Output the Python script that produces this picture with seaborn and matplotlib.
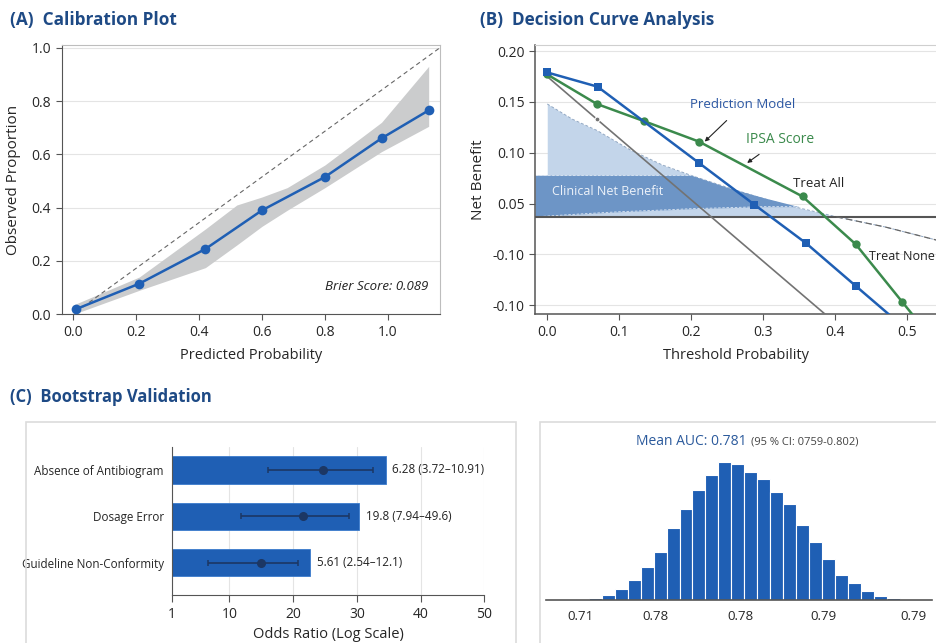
import matplotlib.pyplot as plt
import numpy as np
import pandas as pd
import seaborn as sns
from matplotlib.patches import Rectangle

sns.set_style("white")
plt.rcParams["font.family"] = ["Open Sans", "DejaVu Sans"]

NAVY = "#1e4a85"
BLUE = "#1f5fb4"
GREEN = "#3b8a4c"
GRID = "#e4e4e4"
SPINE = "#555555"

# (A) calibration
cal_pred = [0.01, 0.21, 0.42, 0.60, 0.80, 0.98, 1.13]
cal_obs = [0.02, 0.115, 0.245, 0.39, 0.515, 0.66, 0.765]
cal_band_x = [0.0, 0.21, 0.42, 0.52, 0.60, 0.68, 0.80, 0.98, 1.13]
cal_band_hi = [0.035, 0.14, 0.32, 0.41, 0.44, 0.475, 0.56, 0.72, 0.93]
cal_band_lo = [0.0, 0.09, 0.175, 0.26, 0.33, 0.39, 0.475, 0.61, 0.705]
brier = 0.089

# (B) decision curve
thr_model = [0.0, 0.07, 0.211, 0.288, 0.36, 0.429, 0.49]
nb_model = [0.179, 0.165, 0.090, 0.049, 0.011, -0.031, -0.068]
thr_ipsa = [0.0, 0.069, 0.135, 0.211, 0.355, 0.429, 0.494, 0.518]
nb_ipsa = [0.177, 0.148, 0.131, 0.111, 0.057, 0.010, -0.047, -0.068]
thr_all = [0.0, 0.069, 0.40]
nb_all = [0.175, 0.133, -0.067]
nb_none = 0.037
cnb_x = [0.0, 0.035, 0.069, 0.115, 0.16, 0.203, 0.25, 0.286, 0.33, 0.379, 0.402, 0.47, 0.542]
cnb_hi = [0.148, 0.133, 0.122, 0.103, 0.088, 0.077, 0.066, 0.058, 0.049, 0.041, 0.037, 0.027, 0.014]
cnb_band_x = [-0.017, 0.05, 0.10, 0.17, 0.20, 0.25, 0.30, 0.35]
cnb_band_lo = [0.037, 0.040, 0.042, 0.044, 0.045, 0.046, 0.047, 0.047]
cnb_band_hi = [0.078, 0.078, 0.078, 0.078, 0.078, 0.066, 0.056, 0.047]
b_yticks = [0.20, 0.15, 0.10, 0.05, 0.00, -0.05]
b_ylabels = ["0.20", "0.15", "0.10", "0.05", "-0.10", "-0.10"]

# (C) bootstrap odds ratios
predictors = ["Absence of Antibiogram", "Dosage Error", "Guideline Non-Conformity"]
or_bar = [34.5, 30.4, 22.7]
or_point = [24.7, 21.6, 14.9]
or_lo = [16.1, 11.8, 6.7]
or_hi = [32.5, 28.8, 20.7]
or_text = ["6.28 (3.72\u201310.91)", "19.8 (7.94\u201349.6)", "5.61 (2.54\u201312.1)"]
or_ticks = [1, 10, 20, 30, 40, 50]

# (C) bootstrap AUC distribution
auc_counts = [8, 23, 53, 107, 197, 333, 480, 717, 913, 1103, 1247, 1383, 1357,
              1283, 1207, 1083, 957, 747, 583, 407, 253, 167, 87, 43, 17]
auc_range = (0.7405, 0.8184)
auc_ticks = [0.7416, 0.7596, 0.78, 0.7999, 0.8216]
auc_ticklabels = ["0.71", "0.78", "0.78", "0.79", "0.79"]

fig = plt.figure(figsize=(9.37, 6.43), dpi=100)

# ---------- (A) ----------
ax = fig.add_axes([0.0658, 0.5112, 0.4038, 0.4188])
ax.fill_between(cal_band_x, cal_band_lo, cal_band_hi, color="#cbcccd", lw=0, zorder=1)
ax.plot([0.01, 1.166], [0.01, 1.0], ls=(0, (4, 3)), color="#666666", lw=0.8, zorder=2)
sns.lineplot(x=cal_pred, y=cal_obs, marker="o", markersize=7, color=BLUE,
             lw=1.8, markeredgewidth=0, sort=False, ax=ax, zorder=3)
ax.set_xlim(-0.037, 1.166)
ax.set_ylim(0, 1.01)
ax.set_xticks([0.0, 0.2, 0.4, 0.6, 0.8, 1.0])
ax.set_xticklabels(["0.0", "0.2", "0.4", "0.6", "0.8", "1.0"])
ax.set_yticks([0.0, 0.2, 0.4, 0.6, 0.8, 1.0])
ax.set_yticklabels(["0.0", "0.2", "0.4", "0.6", "0.8", "1.0"])
ax.yaxis.grid(True, color=GRID, lw=0.8)
ax.set_axisbelow(True)
ax.set_xlabel("Predicted Probability", fontsize=10.5, labelpad=6)
ax.set_ylabel("Observed Proportion", fontsize=11, labelpad=8)
ax.text(1.129, 0.106, f"Brier Score: {brier}", ha="right", va="center",
        style="italic", fontsize=9.5, color="#222222")
for s in ["top", "right"]:
    ax.spines[s].set_color("#bdbdbd")
for s in ["left", "bottom"]:
    ax.spines[s].set_color(SPINE)
ax.tick_params(axis="both", labelsize=10, length=4, color=SPINE, direction="out",
               bottom=True, left=True)

# ---------- (B) ----------
ax = fig.add_axes([0.571, 0.511, 0.429, 0.419])
ax.fill_between(cnb_x, nb_none, cnb_hi, where=[v >= nb_none for v in cnb_hi],
                color="#c3d5ea", lw=0, zorder=1)
ax.plot(cnb_x, cnb_hi, ls=(0, (3, 2)), color="#8fa6c2", lw=0.7, zorder=2)
ax.fill_between(cnb_band_x, cnb_band_lo, cnb_band_hi, color="#6d95c6", lw=0, zorder=2)
ax.plot(cnb_band_x[:5], cnb_band_hi[:5], ls=(0, (3, 2)), color="#dce6f2", lw=0.6, zorder=2)
ax.plot(cnb_band_x, cnb_band_lo, ls=(0, (3, 2)), color="#dce6f2", lw=0.6, zorder=2)
ax.axhline(nb_none, color="#555555", lw=1.5, zorder=3)
ax.plot(cnb_x[10:], cnb_hi[10:], ls=(0, (5, 3)), color="#666666", lw=0.9, zorder=3)
sns.lineplot(x=thr_all, y=nb_all, color="#737373", lw=1.2, marker="o", markersize=3.5,
             markevery=[1], sort=False, ax=ax, zorder=4)
sns.lineplot(x=thr_ipsa, y=nb_ipsa, color=GREEN, lw=1.8, marker="o", markersize=6,
             markeredgewidth=0, markevery=list(range(7)), sort=False, ax=ax, zorder=5)
sns.lineplot(x=thr_model, y=nb_model, color=BLUE, lw=1.8, marker="s", markersize=5.5,
             markeredgewidth=0, markevery=list(range(6)), sort=False, ax=ax, zorder=6)
ax.text(0.007, 0.062, "Clinical Net Benefit", color="#eef3fa", fontsize=9,
        va="center", zorder=7)
ax.annotate("Prediction Model", xy=(0.219, 0.111), xytext=(0.272, 0.147),
            ha="center", va="center", color="#2b57a3", fontsize=9.5, zorder=7,
            arrowprops=dict(arrowstyle="-|>", color="#222222", lw=0.8,
                            mutation_scale=6, shrinkA=6, shrinkB=0))
ax.annotate("IPSA Score", xy=(0.278, 0.090), xytext=(0.276, 0.113),
            ha="left", va="center", color=GREEN, fontsize=10, zorder=7,
            arrowprops=dict(arrowstyle="-|>", color="#222222", lw=0.8,
                            mutation_scale=6, shrinkA=5, shrinkB=0))
ax.text(0.342, 0.070, "Treat All", color="#222222", fontsize=9.5, va="center", zorder=7)
ax.text(0.448, -0.002, "Treat None", color="#222222", fontsize=9, va="center", zorder=7)
ax.set_xlim(-0.017, 0.542)
ax.set_ylim(-0.059, 0.206)
ax.set_xticks([0.0, 0.1, 0.2, 0.3, 0.4, 0.5])
ax.set_xticklabels(["0.0", "0.1", "0.2", "0.3", "0.4", "0.5"])
ax.set_yticks(b_yticks)
ax.set_yticklabels(b_ylabels)
ax.yaxis.grid(True, color=GRID, lw=0.8)
ax.set_axisbelow(True)
ax.set_xlabel("Threshold Probability", fontsize=10.5, labelpad=6)
ax.set_ylabel("Net Benefit", fontsize=11, labelpad=5)
ax.spines["top"].set_color("#cfcfcf")
ax.spines["right"].set_visible(False)
for s in ["left", "bottom"]:
    ax.spines[s].set_color(SPINE)
    ax.spines[s].set_linewidth(1.1)
ax.tick_params(axis="both", labelsize=10, length=4, color=SPINE, direction="out",
               bottom=True, left=True)

# ---------- panel boxes for (C) ----------
for x0, w in [(0.0277, 0.523), (0.5763, 0.43)]:
    fig.patches.append(Rectangle((x0, -0.02), w, 0.3642, transform=fig.transFigure,
                                 fill=False, edgecolor="#dcdcdc", lw=1.2))

# ---------- (C) odds ratios ----------
ax = fig.add_axes([0.1836, 0.0747, 0.3333, 0.2306])
sns.barplot(x=or_bar, y=predictors, orient="h", color=BLUE, saturation=1,
            width=0.59, edgecolor="#3b7bcc", linewidth=0.6, ax=ax, zorder=2)
ypos = np.arange(len(predictors))
ax.errorbar(or_point, ypos,
            xerr=[np.subtract(or_point, or_lo), np.subtract(or_hi, or_point)],
            fmt="o", color="#1c3764", ms=5.5, lw=1.2, capsize=2.5, capthick=1.1, zorder=3)
for i, (b, t) in enumerate(zip(or_bar, or_text)):
    ax.text(b + 1.0, i, t, va="center", fontsize=8.4, color="#222222")
ax.set_xlim(1, 50)
ax.set_ylim(2.7, -0.5)
ax.set_xticks(or_ticks)
ax.set_xticklabels([str(t) for t in or_ticks])
ax.xaxis.grid(True, color=GRID, lw=0.8)
ax.set_axisbelow(True)
ax.set_xlabel("Odds Ratio (Log Scale)", fontsize=10.5, labelpad=4)
ax.set_ylabel("")
sns.despine(ax=ax)
for s in ["left", "bottom"]:
    ax.spines[s].set_color(SPINE)
ax.tick_params(axis="x", labelsize=10, length=5, color=SPINE, direction="out", bottom=True)
ax.tick_params(axis="y", labelsize=8.4, length=0, pad=6)

# ---------- (C) AUC histogram ----------
ax = fig.add_axes([0.5824, 0.0669, 0.412, 0.2255])
n_bins = len(auc_counts)
bin_w = (auc_range[1] - auc_range[0]) / n_bins
auc_df = pd.DataFrame({
    "auc": [auc_range[0] + (i + 0.5) * bin_w for i in range(n_bins)],
    "n": auc_counts,
})
sns.histplot(data=auc_df, x="auc", weights="n", binwidth=bin_w, binrange=auc_range,
             color=BLUE, alpha=1, edgecolor="white", linewidth=0.8, ax=ax)
ax.set_xlim(0.7333, 0.8260)
ax.set_ylim(0, 1450)
ax.set_xticks(auc_ticks)
ax.set_xticklabels(auc_ticklabels)
ax.set_yticks([])
ax.set_xlabel("")
ax.set_ylabel("")
sns.despine(ax=ax, left=True)
ax.spines["bottom"].set_color(SPINE)
ax.spines["bottom"].set_linewidth(1.2)
ax.tick_params(axis="x", labelsize=9.5, length=0, pad=7)

fig.text(0.797, 0.313, "Mean AUC: 0.781", ha="right", va="center",
         color="#2b5a9c", fontsize=10)
fig.text(0.8015, 0.313, "(95 % CI: 0759-0.802)", ha="left", va="center",
         color="#444444", fontsize=8)

# ---------- panel titles ----------
fig.text(0.011, 0.969, "(A)  Calibration Plot", color=NAVY, fontsize=12.4,
         fontweight="bold", va="center")
fig.text(0.512, 0.969, "(B)  Decision Curve Analysis", color=NAVY, fontsize=12.3,
         fontweight="bold", va="center")
fig.text(0.011, 0.3826, "(C)  Bootstrap Validation", color=NAVY, fontsize=12,
         fontweight="bold", va="center")

fig.savefig("out.png", dpi=100)
